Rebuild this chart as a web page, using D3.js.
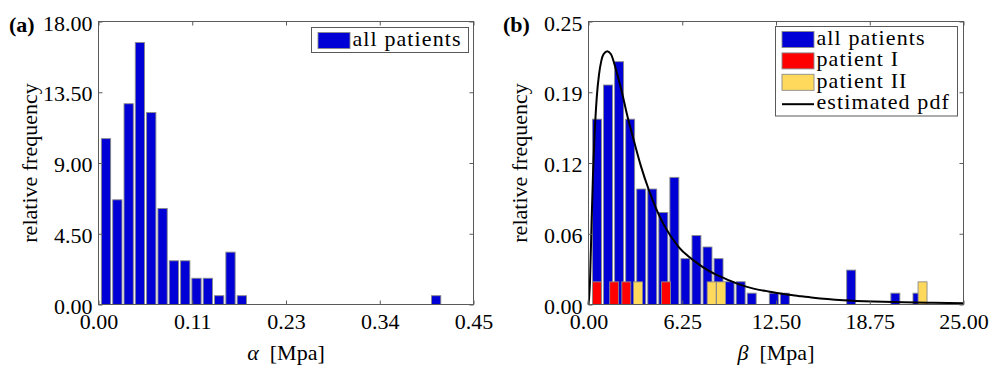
<!DOCTYPE html>
<html>
<head>
<meta charset="utf-8">
<script src="https://cdn.jsdelivr.net/npm/d3@7"></script>
<style>
  html, body { margin: 0; padding: 0; background: #fff; }
  svg { display: block; }
  text { font-family: "Liberation Serif", "Times New Roman", serif; fill: #000; }
</style>
</head>
<body>
<svg id="chart" width="989" height="367"></svg>
<script>
// ---------------- data ----------------
// Panel (a): alpha histogram (bin centres, relative frequency)
const alphaCenters = [0.0090, 0.0226, 0.0362, 0.0497, 0.0633, 0.0769, 0.0905, 0.1041, 0.1176, 0.1312, 0.1448, 0.1584, 0.1720, 0.4052];
const alphaFreq    = [10.55, 6.66, 12.77, 16.66, 12.21, 6.11, 2.78, 2.78, 1.67, 1.67, 0.56, 3.33, 0.56, 0.56];
const alphaBinWidth = 0.01358;
const alphaXTicks = [0, 0.1125, 0.225, 0.3375, 0.45];
const alphaXLabels = ["0.00", "0.11", "0.23", "0.34", "0.45"];
const alphaYTicks = [0, 4.5, 9, 13.5, 18];
const alphaYLabels = ["0.00", "4.50", "9.00", "13.50", "18.00"];

// Panel (b): beta histogram
const betaCenters = [0.567, 1.303, 2.040, 2.777, 3.514, 4.250, 4.987, 5.724, 6.460, 7.197, 7.934, 8.670, 9.407, 10.144, 10.880, 12.354, 13.090, 17.511, 20.457, 21.931];
const betaFreq    = [0.1637, 0.1939, 0.2145, 0.1637, 0.1020, 0.1020, 0.0813, 0.1123, 0.0405, 0.0609, 0.0508, 0.0405, 0.0201, 0.0201, 0.0100, 0.0100, 0.0100, 0.0304, 0.0100, 0.0100];
const betaBinWidth = 0.7367;
const patientIX   = [0.567, 1.71, 2.52, 5.17];
const patientIFreq = [0.02, 0.02, 0.02, 0.02];
const patientIIX  = [3.30, 8.21, 8.83, 22.27];
const patientIIFreq = [0.02, 0.02, 0.02, 0.02];
const pdfX = [0, 0.1, 0.2, 0.3, 0.4, 0.55, 0.7, 0.85, 1.0, 1.25, 1.5, 1.8, 2.2, 2.6, 3.0, 3.5, 4.0, 4.5, 5.0, 6.0, 7.0, 8.0, 9.0, 10.0, 11.0, 12.0, 13.0, 14.0, 15.0, 17.0, 19.0, 21.0, 23.0, 25.0];
const pdfY = [0, 0.02, 0.07, 0.115, 0.148, 0.183, 0.203, 0.215, 0.221, 0.2237, 0.221, 0.209, 0.189, 0.166, 0.146, 0.122, 0.102, 0.085, 0.071, 0.051, 0.039, 0.030, 0.0235, 0.0180, 0.0140, 0.0115, 0.0093, 0.0076, 0.0060, 0.0038, 0.0026, 0.0019, 0.0015, 0.0012];
const betaXTicks = [0, 6.25, 12.5, 18.75, 25];
const betaXLabels = ["0.00", "6.25", "12.50", "18.75", "25.00"];
const betaYTicks = [0, 0.0625, 0.125, 0.1875, 0.25];
const betaYLabels = ["0.00", "0.06", "0.12", "0.19", "0.25"];

// ---------------- style ----------------
const BLUE = "#0000d6", RED = "#ff0000", YELLOW = "#ffd95c";
const EDGE = "#8a8a8a", AXIS = "#5a5a5a";
const FS = 22;

const svg = d3.select("#chart");

function panel(opts) {
  const g = svg.append("g");
  const x = d3.scaleLinear().domain(opts.xDomain).range([opts.left, opts.right]);
  const y = d3.scaleLinear().domain(opts.yDomain).range([opts.bottom, opts.top]);

  // bars
  opts.series.forEach(s => {
    g.append("g").selectAll("rect").data(s.x.map((d, i) => [d, s.y[i]])).join("rect")
      .attr("x", d => x(d[0] - s.width / 2))
      .attr("width", d => x(d[0] + s.width / 2) - x(d[0] - s.width / 2))
      .attr("y", d => y(d[1]))
      .attr("height", d => y(0) - y(d[1]))
      .attr("fill", s.color)
      .attr("stroke", EDGE).attr("stroke-width", 0.9);
  });

  if (opts.line) {
    const line = d3.line().x(d => x(d[0])).y(d => y(d[1])).curve(d3.curveMonotoneX);
    g.append("path").datum(opts.line.x.map((d, i) => [d, opts.line.y[i]]))
      .attr("d", line).attr("fill", "none").attr("stroke", "#000").attr("stroke-width", 2);
  }

  // axes (inward ticks, box)
  const tl = 4;
  const ax = [
    d3.axisBottom(x).tickValues(opts.xTicks).tickFormat((d, i) => opts.xLabels[i]),
    d3.axisTop(x).tickValues(opts.xTicks).tickFormat(""),
    d3.axisLeft(y).tickValues(opts.yTicks).tickFormat((d, i) => opts.yLabels[i]),
    d3.axisRight(y).tickValues(opts.yTicks).tickFormat("")
  ];
  const pos = [`translate(0,${opts.bottom})`, `translate(0,${opts.top})`, `translate(${opts.left},0)`, `translate(${opts.right},0)`];
  ax.forEach((a, k) => {
    a.tickSizeInner(-tl).tickSizeOuter(0).tickPadding(0);
    const ag = g.append("g").attr("transform", pos[k]).call(a);
    ag.select(".domain").remove();
    ag.selectAll(".tick line").attr("stroke", AXIS);
    ag.selectAll("text").style("font-family", '"Liberation Serif", serif').style("font-size", FS + "px").attr("fill", "#000");
    if (k === 0) ag.selectAll("text").attr("y", 24).attr("dy", 0);
    if (k === 2) ag.selectAll("text").attr("x", -6).attr("dy", 0).attr("y", 8.5);
  });
  g.append("rect").attr("x", opts.left).attr("y", opts.top)
    .attr("width", opts.right - opts.left).attr("height", opts.bottom - opts.top)
    .attr("fill", "none").attr("stroke", AXIS).attr("stroke-width", 1);

  // axis labels
  const xl = g.append("text").attr("x", (opts.left + opts.right) / 2).attr("y", 360)
    .attr("text-anchor", "middle").style("font-size", FS + "px");
  xl.append("tspan").style("font-style", "italic").text(opts.sym);
  xl.append("tspan").text("\u2002[Mpa]");

  g.append("text").attr("transform", `translate(${opts.left - 62},${(opts.top + opts.bottom) / 2}) rotate(-90)`)
    .attr("text-anchor", "middle").style("font-size", FS + "px").text("relative frequency");

  g.append("text").attr("x", opts.tagX).attr("y", 32).style("font-size", FS + "px").style("font-weight", "bold").text(opts.tag);

  // legend
  const L = opts.legend;
  g.append("rect").attr("x", L.x).attr("y", L.y).attr("width", L.w).attr("height", L.h)
    .attr("fill", "#fff").attr("stroke", AXIS).attr("stroke-width", 1);
  L.items.forEach((it, i) => {
    const ry = L.y + 5 + i * 21.4;
    if (it.type === "rect") {
      g.append("rect").attr("x", L.x + 6.5).attr("y", ry).attr("width", 32).attr("height", 16)
        .attr("fill", it.color).attr("stroke", EDGE).attr("stroke-width", 0.9);
    } else {
      g.append("line").attr("x1", L.x + 6.5).attr("x2", L.x + 38.5).attr("y1", ry + 8.5).attr("y2", ry + 8.5)
        .attr("stroke", "#000").attr("stroke-width", 2);
    }
    g.append("text").attr("x", L.x + 41).attr("y", ry + 13.5).style("font-size", FS + "px")
      .style("letter-spacing", "1.1px").text(it.label);
  });
}

panel({
  left: 98.5, right: 473.5, top: 21.5, bottom: 304.5,
  xDomain: [0, 0.45], yDomain: [0, 18],
  xTicks: alphaXTicks, xLabels: alphaXLabels, yTicks: alphaYTicks, yLabels: alphaYLabels,
  series: [{ x: alphaCenters, y: alphaFreq, width: alphaBinWidth * 0.82, color: BLUE }],
  sym: "\u03B1", tag: "(a)", tagX: 9,
  legend: { x: 311.5, y: 27.5, w: 157, h: 25, items: [{ type: "rect", color: BLUE, label: "all patients" }] }
});

panel({
  left: 588.5, right: 963.5, top: 21.5, bottom: 304.5,
  xDomain: [0, 25], yDomain: [0, 0.25],
  xTicks: betaXTicks, xLabels: betaXLabels, yTicks: betaYTicks, yLabels: betaYLabels,
  series: [
    { x: betaCenters, y: betaFreq, width: betaBinWidth * 0.81, color: BLUE },
    { x: patientIX, y: patientIFreq, width: betaBinWidth * 0.81, color: RED },
    { x: patientIIX, y: patientIIFreq, width: betaBinWidth * 0.81, color: YELLOW }
  ],
  line: { x: pdfX, y: pdfY },
  sym: "\u03B2", tag: "(b)", tagX: 503,
  legend: { x: 775.5, y: 26.5, w: 182, h: 89.5, items: [
    { type: "rect", color: BLUE, label: "all patients" },
    { type: "rect", color: RED, label: "patient I" },
    { type: "rect", color: YELLOW, label: "patient II" },
    { type: "line", label: "estimated pdf" }
  ] }
});
</script>
</body>
</html>
